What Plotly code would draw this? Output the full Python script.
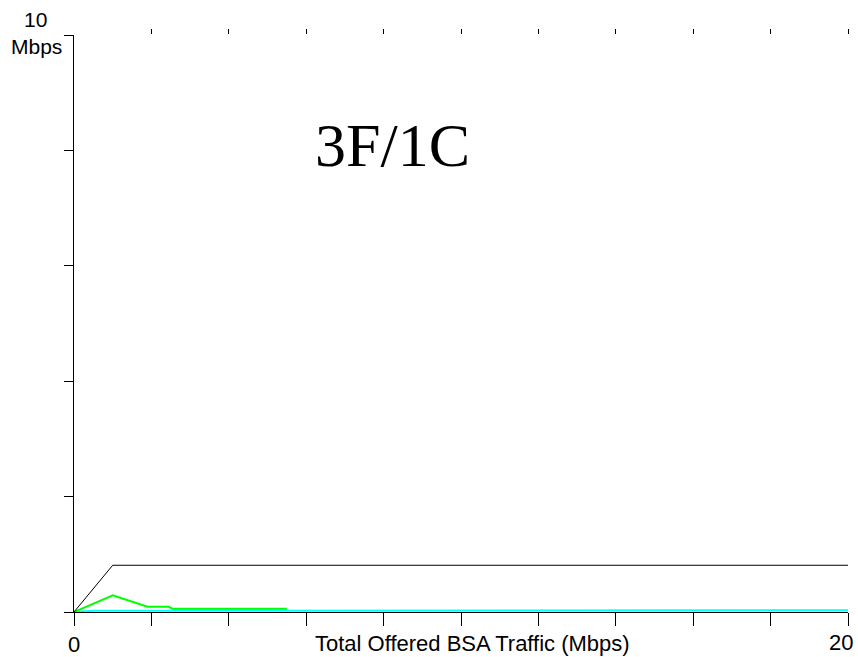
import plotly.graph_objects as go

# Data (Mbps)
black_x = [0, 1, 20]
black_y = [0, 0.81, 0.81]
green_x = [0, 1, 1.9, 2.45, 2.55, 5.5]
green_y = [0, 0.29, 0.09, 0.09, 0.055, 0.055]
cyan_x = [0, 0.5, 20]
cyan_y = [0, 0.02, 0.03]

x_tickvals = [0, 2, 4, 6, 8, 10, 12, 14, 16, 18, 20]
x_ticktext = ["0", "", "", "", "", "", "", "", "", "", ""]
x_last_label = "20"
top_tickvals = [2, 4, 6, 8, 10, 12, 14, 16, 18, 20]
y_tickvals = [0, 2, 4, 6, 8, 10]

fig = go.Figure()
fig.add_trace(go.Scatter(x=cyan_x, y=cyan_y, mode="lines",
                         line=dict(color="#00FFFF", width=2), showlegend=False))
fig.add_trace(go.Scatter(x=green_x, y=green_y, mode="lines",
                         line=dict(color="#00FF00", width=2), showlegend=False))
fig.add_trace(go.Scatter(x=black_x, y=black_y, mode="lines",
                         line=dict(color="black", width=1), showlegend=False))
# invisible trace to anchor top tick axis
fig.add_trace(go.Scatter(x=[0, 20], y=[0, 0], xaxis="x2", mode="lines",
                         line=dict(width=0), opacity=0, showlegend=False,
                         hoverinfo="skip"))

font = "Liberation Sans, Arial, sans-serif"

fig.update_layout(
    width=858, height=657,
    margin=dict(l=74, r=10, t=35, b=45, autoexpand=False),
    paper_bgcolor="white", plot_bgcolor="white",
    xaxis=dict(range=[0, 20], tickvals=x_tickvals, ticktext=x_ticktext,
               ticks="outside", ticklen=13, tickwidth=1, tickcolor="black",
               showline=True, linecolor="black", linewidth=1,
               showgrid=False, zeroline=False, automargin=False,
               ticklabeloverflow="allow",
               tickfont=dict(family=font, size=22, color="black")),
    xaxis2=dict(range=[0, 20], overlaying="x", side="top", anchor="y",
                tickvals=top_tickvals, ticks="outside", ticklen=5,
                tickwidth=1, tickcolor="black", showticklabels=False,
                showline=False, showgrid=False, zeroline=False,
                automargin=False),
    yaxis=dict(range=[0, 10], tickvals=y_tickvals, ticks="outside",
               ticklen=9, tickwidth=1, tickcolor="black",
               showticklabels=False, showline=True, linecolor="black",
               linewidth=1, showgrid=False, zeroline=False, automargin=False),
    annotations=[
        dict(text="3F/1C", x=0.411, y=0.81, xref="paper", yref="paper",
             showarrow=False, xanchor="center", yanchor="middle",
             font=dict(family="Liberation Serif, Times New Roman, serif",
                       size=62, color="black")),
        dict(text="Total Offered BSA Traffic (Mbps)", x=0.515, y=-0.054,
             xref="paper", yref="paper", showarrow=False,
             xanchor="center", yanchor="middle",
             font=dict(family=font, size=22, color="black")),
        dict(text=x_last_label, x=1.009, y=-0.0537, xref="paper",
             yref="paper", showarrow=False, xanchor="right",
             yanchor="middle",
             font=dict(family=font, size=22, color="black")),
        dict(text="10", x=-0.05, y=1.026, xref="paper", yref="paper",
             showarrow=False, xanchor="center", yanchor="middle",
             font=dict(family=font, size=21, color="black")),
        dict(text="Mbps", x=-0.0129, y=0.98, xref="paper", yref="paper",
             showarrow=False, xanchor="right", yanchor="middle",
             font=dict(family=font, size=21, color="black")),
    ],
)

fig.write_html("out.html")
